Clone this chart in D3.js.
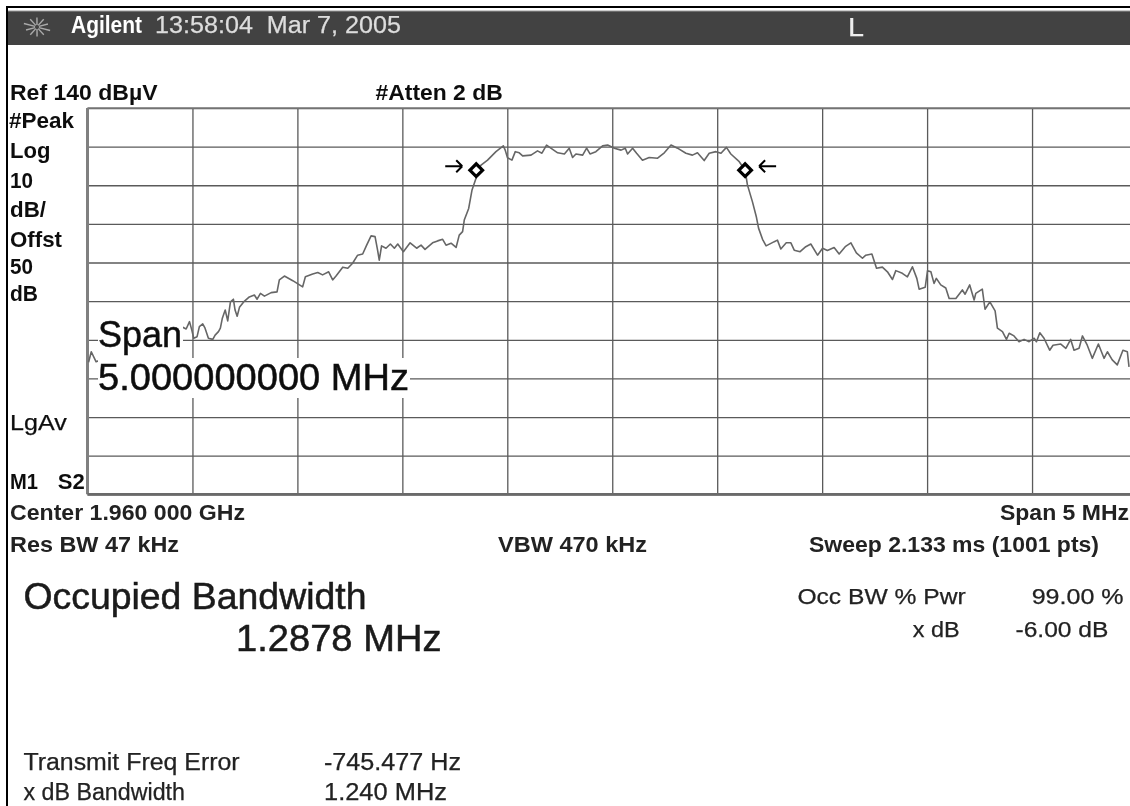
<!DOCTYPE html>
<html>
<head>
<meta charset="utf-8">
<script src="https://cdn.jsdelivr.net/npm/d3@7/dist/d3.min.js"></script>
<style>
html,body{margin:0;padding:0;background:#fff;overflow:hidden}
svg{display:block}
text{font-family:"Liberation Sans",Arial,sans-serif}
</style>
</head>
<body>
<svg id="c" width="1130" height="806"></svg>
<script>
// Offset from centre frequency, MHz
const freqOffsetMHz = [
-2.495,-2.482,-2.459,-2.044,-2.030,-2.014,-2.003,-1.994,-1.978,-1.967,-1.951,-1.940,-1.924,-1.903,-1.892,-1.876,-1.867,-1.858,-1.844,-1.832,
-1.819,-1.805,-1.797,-1.787,-1.776,-1.756,-1.729,-1.705,-1.692,-1.676,-1.657,-1.625,-1.597,-1.586,-1.562,-1.522,-1.475,-1.462,-1.427,-1.403,
-1.380,-1.351,-1.332,-1.316,-1.284,-1.260,-1.237,-1.213,-1.189,-1.170,-1.149,-1.130,-1.118,-1.110,-1.099,-1.078,-1.057,-1.038,-1.022,-0.995,
-0.963,-0.932,-0.911,-0.892,-0.856,-0.832,-0.808,-0.792,-0.768,-0.744,-0.729,-0.713,-0.705,-0.684,-0.668,-0.649,-0.648,-0.625,-0.594,-0.554,
-0.519,-0.510,-0.499,-0.478,-0.462,-0.443,-0.427,-0.387,-0.356,-0.335,-0.313,-0.284,-0.260,-0.228,-0.205,-0.189,-0.173,-0.141,-0.122,-0.106,
-0.078,-0.046,-0.022,0.010,0.042,0.062,0.073,0.097,0.116,0.144,0.176,0.216,0.248,0.280,0.311,0.351,0.382,0.406,0.438,0.462,
0.494,0.518,0.544,0.565,0.605,0.633,0.644,0.668,0.687,0.697,0.716,0.733,0.772,0.787,0.803,0.829,0.851,0.867,0.895,0.922,
0.946,0.978,1.002,1.025,1.057,1.081,1.110,1.137,1.163,1.192,1.208,1.237,1.259,1.287,1.311,1.335,1.351,1.382,1.406,1.430,
1.451,1.462,1.491,1.502,1.518,1.533,1.544,1.565,1.589,1.605,1.637,1.668,1.681,1.703,1.724,1.732,1.763,1.776,1.799,1.824,
1.835,1.859,1.878,1.891,1.914,1.938,1.962,1.986,2.010,2.021,2.037,2.057,2.084,2.100,2.137,2.161,2.184,2.200,2.224,2.240,
2.263,2.287,2.316,2.343,2.359,2.382,2.406,2.433,2.454,2.462];
// Trace level, dBuV
const levelDb = [
74.2,76.9,74.3,83.2,82.8,84.7,82.5,80.4,80.8,83.4,84.1,83.0,80.4,80.1,81.2,82.1,83.0,85.5,87.7,84.9,
89.8,90.5,87.7,86.1,88.4,89.8,91.1,91.6,90.5,92.0,91.3,92.2,92.4,95.5,96.5,95.3,93.7,96.3,97.0,97.4,
96.8,97.6,95.5,96.5,98.8,98.5,99.8,101.9,102.2,104.5,106.9,106.7,103.2,100.6,104.3,103.7,104.8,103.7,104.8,102.8,
105.1,103.7,104.5,103.4,105.1,105.6,106.0,104.5,105.0,103.9,107.1,108.0,111.0,114.0,118.8,121.8,123.9,125.2,126.5,128.7,
130.2,129.1,127.1,126.5,128.7,128.4,127.6,127.8,128.9,128.3,130.4,129.3,128.4,128.1,129.6,127.2,128.1,127.8,129.6,128.1,
128.7,130.2,130.4,129.6,129.1,129.6,128.1,129.6,128.3,126.5,127.2,127.0,128.4,130.4,129.6,128.3,127.8,128.4,126.4,128.3,
128.7,128.3,129.8,128.1,126.1,123.9,120.1,115.7,111.7,108.9,106.0,104.3,105.4,105.8,103.5,105.1,105.1,103.2,102.8,104.1,
104.8,101.9,103.7,103.1,103.9,102.2,104.1,105.1,102.5,101.1,101.9,102.2,98.5,98.8,97.6,95.6,97.9,97.2,96.3,98.9,
95.9,93.1,93.6,97.9,97.6,94.6,95.9,94.2,93.4,90.7,90.7,92.9,91.8,94.2,90.3,92.0,93.1,87.9,89.8,87.5,
83.0,82.1,80.1,81.7,81.0,79.5,80.1,79.5,80.4,79.5,81.8,80.4,77.3,78.6,78.9,77.8,80.1,77.3,77.8,81.0,
78.6,75.2,78.9,75.2,76.9,74.8,73.5,77.3,76.9,73.0];
const markerFreq = [-0.648, 0.633];
const markerLevel = [123.9, 123.9];
const xTicks = [-2.5,-2,-1.5,-1,-0.5,0,0.5,1,1.5,2];
const yTicks = [140,130,120,110,100,90,80,70,60,50,40];

// text, left, right, baseline, font size, weight, colour
const labels = [
["Agilent",71,142,33,23,"bold","#fff"],
["13:58:04  Mar 7, 2005",155,401,33,23,"normal","#ddd"],
["L",848,864,36,26,"normal","#eee"],
["Ref 140 dB\u00b5V",10,157.5,100,22,"bold","#111"],
["#Atten 2 dB",375.5,502.7,100,22,"bold","#111"],
["#Peak",9,74,127.5,22,"bold","#111"],
["Log",10,50.5,158,22,"bold","#111"],
["10",10,33,188,22,"bold","#111"],
["dB/",10,46,217,22,"bold","#111"],
["Offst",10,62,247,22,"bold","#111"],
["50",10,33,274,22,"bold","#111"],
["dB",10,38,301,22,"bold","#111"],
["LgAv",10,66.7,430,22,"normal","#111"],
["M1",10,38,489,22,"bold","#111"],
["S2",57.7,84.7,489,22,"bold","#111"],
["Center 1.960 000 GHz",10,245,520,22,"bold","#222"],
["Span 5 MHz",1000,1129,520,22,"bold","#222"],
["Res BW 47 kHz",10,179,552,22,"bold","#222"],
["VBW 470 kHz",498,647,552,22,"bold","#222"],
["Sweep 2.133 ms (1001 pts)",809,1099,552,22,"bold","#222"],
["Span",98,182,346.5,36,"normal","#111"],
["5.000000000 MHz",98,409,390,36,"normal","#111"],
["Occupied Bandwidth",23.4,366.5,608.5,36,"normal","#1a1a1a"],
["1.2878 MHz",236,441.5,651,36,"normal","#1a1a1a"],
["Occ BW % Pwr",797.4,965.7,603.5,22,"normal","#222"],
["99.00 %",1031.7,1123.6,603.5,22,"normal","#222"],
["x dB",912.7,959.6,636.5,22,"normal","#222"],
["-6.00 dB",1015.5,1108.4,636.5,22,"normal","#222"],
["Transmit Freq Error",23.4,239.6,770,23,"normal","#222"],
["-745.477 Hz",324,461,770,23,"normal","#222"],
["x dB Bandwidth",23.4,185,800,23,"normal","#222"],
["1.240 MHz",324,447,800,23,"normal","#222"]
];

const svg = d3.select("#c");
const defs = svg.append("defs");
defs.append("filter").attr("id","soft").attr("x","-2%").attr("y","-2%").attr("width","104%").attr("height","104%")
  .append("feGaussianBlur").attr("stdDeviation",0.55);
const root = svg.append("g").attr("filter","url(#soft)");

root.append("rect").attr("width",1130).attr("height",806).attr("fill","#fff");

// Frame and header bar
root.append("rect").attr("x",6).attr("y",6).attr("width",1124).attr("height",2).attr("fill","#000");
root.append("rect").attr("x",6).attr("y",6).attr("width",2).attr("height",800).attr("fill","#000");
root.append("rect").attr("x",8).attr("y",11).attr("width",1122).attr("height",34).attr("fill","#424242");
root.append("line").attr("x1",8).attr("x2",1130).attr("y1",11).attr("y2",11).attr("stroke","#999").attr("stroke-width",1);

// Logo spark
const logo = root.append("g").attr("transform","translate(37,27)").attr("stroke","#aaa").attr("stroke-width",1.4);
d3.range(10).forEach(i=>{
  const a = i*Math.PI/5 + 0.31, r = i%5===0 ? 12 : 10;
  logo.append("line").attr("x1",Math.cos(a)*2).attr("y1",Math.sin(a)*2)
    .attr("x2",Math.cos(a)*r*1.15).attr("y2",Math.sin(a)*r*0.95);
});

// Scales
const x = d3.scaleLinear().domain([-2.5,2.5]).range([87.5,1137]);
const y = d3.scaleLinear().domain([140,40]).range([108,494.3]);

// Grid through axes
const gx = root.append("g").attr("transform",`translate(0,${y(40)})`)
  .call(d3.axisBottom(x).tickValues(xTicks).tickSize(-(y(40)-y(140))).tickFormat(""));
const gy = root.append("g").attr("transform",`translate(${x(-2.5)},0)`)
  .call(d3.axisLeft(y).tickValues(yTicks).tickSize(-1050).tickFormat(""));
[gx,gy].forEach(g=>{
  g.select(".domain").remove();
  g.selectAll("line").attr("stroke","#5a5a5a").attr("stroke-width",1.3);
});
root.append("line").attr("x1",x(-2.5)).attr("x2",x(-2.5)).attr("y1",y(140)).attr("y2",y(40)).attr("stroke","#808080").attr("stroke-width",3);
root.append("line").attr("x1",x(-2.5)).attr("x2",1130).attr("y1",y(40)).attr("y2",y(40)).attr("stroke","#6a6a6a").attr("stroke-width",2.8);
root.append("line").attr("x1",x(-2.5)).attr("x2",1130).attr("y1",y(140)).attr("y2",y(140)).attr("stroke","#7c7c7c").attr("stroke-width",1.7);

// Trace
const trace = d3.line().x((d,i)=>x(freqOffsetMHz[i])).y(d=>y(d));
root.append("path").datum(levelDb).attr("d",trace).attr("fill","none").attr("stroke","#666").attr("stroke-width",1.6).attr("stroke-linejoin","round");

// White backings of the on-screen annotation
root.append("rect").attr("x",98).attr("y",322).attr("width",85).attr("height",37).attr("fill","#fff");
root.append("rect").attr("x",98).attr("y",358).attr("width",312).attr("height",40).attr("fill","#fff");

// Markers and arrows
const diamond = d3.symbol(d3.symbolSquare,80);
markerFreq.forEach((f,i)=>{
  const g = root.append("g").attr("transform",`translate(${x(f)},${y(markerLevel[i])})`);
  const s = i===0 ? -1 : 1;
  g.append("path").attr("d",diamond()).attr("transform","rotate(45)").attr("fill","#fff").attr("stroke","#000").attr("stroke-width",3.2);
  const tip = s*14, tail = s*31;
  g.append("path").attr("d",`M${tip},-4H${tail}M${tip},-4l${s*6},-6M${tip},-4l${s*6},6`)
    .attr("fill","none").attr("stroke","#000").attr("stroke-width",2);
});

// Text
root.selectAll("text.l").data(labels).join("text").attr("class","l")
  .attr("x",d=>d[1]).attr("y",d=>d[3])
  .attr("textLength",d=>d[2]-d[1]).attr("lengthAdjust","spacingAndGlyphs")
  .attr("font-size",d=>d[4]).attr("font-weight",d=>d[5]).attr("fill",d=>d[6])
  .attr("stroke",d=>d[5]==="normal"?d[6]:"none").attr("stroke-width",d=>d[4]>30?0.5:0.25)
  .attr("xml:space","preserve").style("white-space","pre")
  .text(d=>d[0]);
</script>
</body>
</html>
